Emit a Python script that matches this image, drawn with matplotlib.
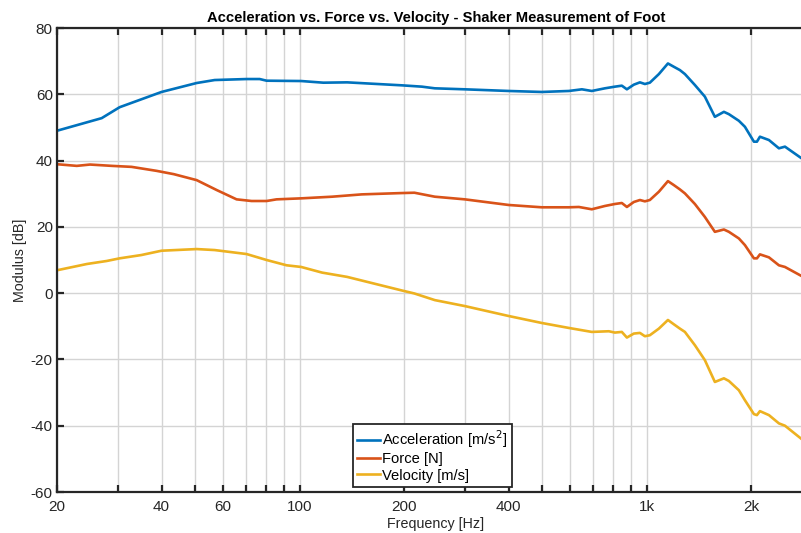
import matplotlib
matplotlib.use("Agg")
import matplotlib.pyplot as plt
from matplotlib.ticker import FixedLocator, NullLocator

plt.rcParams['font.family'] = ['Liberation Sans', 'DejaVu Sans']
plt.rcParams['axes.unicode_minus'] = False

# Acceleration [m/s^2]
freq_acc = [20, 26.9, 30.3, 40, 50.5, 56.9, 70.3, 76.7, 80.3, 101, 117, 137, 197,
            225, 245, 299, 400, 498, 596, 650, 694, 757, 809, 847, 876, 917, 955,
            987, 1020, 1083, 1150, 1196, 1245, 1287, 1375, 1469, 1570, 1667, 1723,
            1841, 1916, 2034, 2075, 2117, 2247, 2401, 2499, 2797, 3050]
acc_db = [49.0, 52.8, 56.1, 60.7, 63.4, 64.3, 64.6, 64.6, 64.1, 64.0, 63.5, 63.6, 62.7,
          62.3, 61.8, 61.5, 61.0, 60.7, 61.0, 61.5, 61.0, 61.8, 62.3, 62.6, 61.5, 62.9, 63.6,
          63.1, 63.5, 66.1, 69.3, 68.3, 67.3, 66.1, 62.8, 59.3, 53.2, 54.7, 54.0,
          52.0, 50.2, 45.7, 45.7, 47.2, 46.2, 43.7, 44.2, 40.6, 39.0]

# Force [N]
freq_force = [20, 22.8, 24.9, 28.8, 32.8, 38.7, 43.4, 50.5, 57.7, 65.8, 72.7, 80.3, 85.8,
              101, 124, 151, 197, 214, 245, 299, 400, 498, 596, 637, 694, 757, 809,
              847, 876, 917, 955, 987, 1020, 1083, 1150, 1196, 1245, 1287, 1375, 1469,
              1570, 1667, 1723, 1841, 1916, 2034, 2075, 2117, 2247, 2401, 2499, 2797, 3050]
force_db = [38.9, 38.4, 38.8, 38.4, 38.1, 36.9, 35.9, 34.1, 31.1, 28.3, 27.8, 27.8, 28.3,
            28.6, 29.1, 29.8, 30.2, 30.3, 29.1, 28.3, 26.6, 25.9, 25.9, 26.0, 25.3, 26.3, 26.9,
            27.2, 26.0, 27.5, 28.1, 27.7, 28.1, 30.6, 33.8, 32.6, 31.3, 30.1, 26.9, 23.0,
            18.5, 19.2, 18.5, 16.5, 14.5, 10.5, 10.5, 11.7, 10.8, 8.4, 7.9, 5.1, 3.5]

# Velocity [m/s]
freq_vel = [20, 24.4, 27.8, 30.3, 35, 40, 50.5, 56.9, 70.3, 80.3, 91.7, 101, 116, 137,
            197, 214, 245, 299, 400, 498, 596, 694, 777, 809, 847, 876, 917, 955, 987,
            1020, 1083, 1150, 1196, 1245, 1287, 1375, 1469, 1570, 1667, 1723, 1841,
            1916, 2034, 2075, 2117, 2247, 2401, 2499, 2797, 3050]
vel_db = [6.9, 8.8, 9.7, 10.5, 11.5, 12.8, 13.3, 13.0, 11.8, 10.0, 8.4, 7.9, 6.2, 4.9,
          0.8, -0.1, -2.1, -3.9, -6.9, -9.0, -10.5, -11.7, -11.5, -11.9, -11.7, -13.4, -12.2, -12.0, -13.0,
          -12.7, -10.7, -8.1, -9.4, -10.7, -11.7, -15.7, -20.2, -26.8, -25.7, -26.5, -29.3,
          -32.3, -36.5, -36.8, -35.6, -36.8, -39.3, -40.0, -44.1, -46.0]

grid_freqs = [30, 40, 50, 60, 70, 80, 90, 100, 200, 300, 400, 500, 600, 700, 800, 900, 1000, 2000]
label_freqs = {20: '20', 40: '40', 60: '60', 100: '100', 200: '200', 400: '400', 1000: '1k', 2000: '2k'}
y_ticks = [-60, -40, -20, 0, 20, 40, 60, 80]

W, H = 801, 533
fig = plt.figure(figsize=(W / 100, H / 100), dpi=100)
ax = fig.add_axes([57 / W, 41 / H, (815 - 57) / W, 464 / H])

ax.semilogx(freq_acc, acc_db, color='#0072BD', lw=1.9, label='Acceleration [m/s$^2$]')
ax.semilogx(freq_force, force_db, color='#D95319', lw=1.9, label='Force [N]')
ax.semilogx(freq_vel, vel_db, color='#EDB120', lw=1.9, label='Velocity [m/s]')

ax.set_xlim(20, 3050)
ax.set_ylim(-60, 80)

xt = [20] + grid_freqs
ax.xaxis.set_major_locator(FixedLocator(xt))
ax.xaxis.set_minor_locator(NullLocator())
ax.set_xticklabels([label_freqs.get(f, '') for f in xt])
ax.set_yticks(y_ticks)

ax.grid(True, color='#d4d4d4', lw=1.0)
ax.set_axisbelow(True)
ax.tick_params(axis='both', direction='in', length=5, width=1.6, colors='#262626',
               labelsize=11, top=True, right=True, pad=3)
ax.tick_params(axis='x', pad=6)
for s in ax.spines.values():
    s.set_color('#262626')
    s.set_linewidth(1.6)

ax.set_title('Acceleration vs. Force vs. Velocity - Shaker Measurement of Foot',
             fontsize=10.6, fontweight='bold', color='#000000', pad=4)
ax.set_xlabel('Frequency [Hz]', fontsize=10.3, color='#262626', labelpad=2)
ax.set_ylabel('Modulus [dB]', fontsize=10.3, color='#262626', labelpad=3)

leg = ax.legend(loc='lower left', bbox_to_anchor=(353 / W, (533 - 487) / H),
                bbox_transform=fig.transFigure, fontsize=10.6, frameon=True, fancybox=False,
                handlelength=1.5, handletextpad=0.2, borderpad=0.3, labelspacing=0.15,
                borderaxespad=0)
leg.get_frame().set_edgecolor('#262626')
leg.get_frame().set_linewidth(1.3)
leg.get_frame().set_alpha(1)

fig.savefig('out.png', dpi=100)
